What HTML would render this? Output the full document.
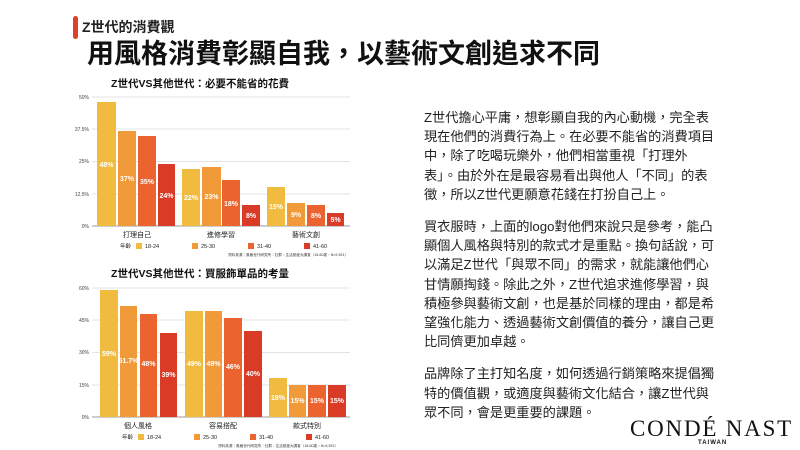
<!DOCTYPE html>
<html><head><meta charset="utf-8"><style>
body{margin:0;width:800px;height:450px;background:#fff;position:relative;overflow:hidden;font-family:"Liberation Sans","Noto Sans CJK TC",sans-serif;}
.bar{position:absolute;left:73px;top:16px;width:5px;height:23px;background:#E0402A;border-radius:3px}
.sub{position:absolute;left:82px;top:17px;font-size:14px;font-weight:bold;color:#222;line-height:20px}
.title{position:absolute;left:87px;top:37px;font-size:27px;font-weight:bold;color:#111;line-height:34px;white-space:nowrap}
.txt{position:absolute;left:424px;top:108px;width:340px;font-size:13.2px;line-height:19.2px;color:#222;white-space:nowrap}
.txt p{margin:0 0 13px 0}
.logo{position:absolute;left:630px;top:416px;font-family:"Liberation Serif",serif;font-size:23px;letter-spacing:1.8px;color:#111;white-space:nowrap;line-height:26px}
.tw{position:absolute;left:698px;top:440px;font-size:6px;font-weight:bold;letter-spacing:1px;color:#111}
</style></head><body>
<div class="bar"></div>
<div class="sub">Z世代的消費觀</div>
<div class="title">用風格消費彰顯自我，以藝術文創追求不同</div>
<svg width="800" height="450" style="position:absolute;left:0;top:0" font-family="Liberation Sans, Noto Sans CJK TC, sans-serif">
<g stroke="#e3e3e3" stroke-width="1">
<line x1="92" x2="350" y1="97" y2="97"/><line x1="92" x2="350" y1="129" y2="129"/><line x1="92" x2="350" y1="161.5" y2="161.5"/><line x1="92" x2="350" y1="194" y2="194"/>
<line x1="92" x2="350" y1="288" y2="288"/><line x1="92" x2="350" y1="320" y2="320"/><line x1="92" x2="350" y1="352.5" y2="352.5"/><line x1="92" x2="350" y1="385" y2="385"/>
</g>
<line x1="92" x2="350" y1="226" y2="226" stroke="#999"/>
<line x1="92" x2="350" y1="417" y2="417" stroke="#999"/>
<g font-size="5" fill="#444" text-anchor="end">
<text x="89" y="99">50%</text><text x="89" y="131">37.5%</text><text x="89" y="163">25%</text><text x="89" y="196">12.5%</text><text x="89" y="228">0%</text>
<text x="89" y="290">60%</text><text x="89" y="322">45%</text><text x="89" y="354">30%</text><text x="89" y="387">15%</text><text x="89" y="419">0%</text>
</g>
<text x="200" y="87" font-size="10.5" font-weight="bold" text-anchor="middle" fill="#111">Z世代VS其他世代：必要不能省的花費</text>
<text x="200" y="277" font-size="10.5" font-weight="bold" text-anchor="middle" fill="#111">Z世代VS其他世代：買服飾單品的考量</text>
<g>
<rect x="97" y="102" width="19" height="124" fill="#F0BB3F"/>
<rect x="118" y="131" width="18" height="95" fill="#F09A3A"/>
<rect x="138" y="136" width="18" height="90" fill="#EB6430"/>
<rect x="158" y="164" width="17" height="62" fill="#DA3B26"/>
<rect x="182" y="169" width="18" height="57" fill="#F0BB3F"/>
<rect x="202" y="167" width="19" height="59" fill="#F09A3A"/>
<rect x="222" y="180" width="18" height="46" fill="#EB6430"/>
<rect x="242" y="205" width="18" height="21" fill="#DA3B26"/>
<rect x="267" y="187" width="18" height="39" fill="#F0BB3F"/>
<rect x="287" y="203" width="18" height="23" fill="#F09A3A"/>
<rect x="307" y="205" width="18" height="21" fill="#EB6430"/>
<rect x="327" y="213" width="17" height="13" fill="#DA3B26"/>
</g>
<g font-size="7" font-weight="bold" fill="#fff" text-anchor="middle">
<text x="106.5" y="167">48%</text><text x="127" y="181">37%</text><text x="147" y="184">35%</text><text x="166.5" y="198">24%</text>
<text x="191" y="200">22%</text><text x="211.5" y="199">23%</text><text x="231" y="206">18%</text><text x="251" y="218">8%</text>
<text x="276" y="209">15%</text><text x="296" y="217">9%</text><text x="316" y="218">8%</text><text x="335.5" y="222">5%</text>
</g>
<g>
<rect x="100" y="290" width="18" height="127" fill="#F0BB3F"/>
<rect x="120" y="306" width="17" height="111" fill="#F09A3A"/>
<rect x="140" y="314" width="17" height="103" fill="#EB6430"/>
<rect x="160" y="333" width="17" height="84" fill="#DA3B26"/>
<rect x="185" y="311" width="18" height="106" fill="#F0BB3F"/>
<rect x="205" y="311" width="17" height="106" fill="#F09A3A"/>
<rect x="224" y="318" width="18" height="99" fill="#EB6430"/>
<rect x="244" y="331" width="18" height="86" fill="#DA3B26"/>
<rect x="269" y="378" width="18" height="39" fill="#F0BB3F"/>
<rect x="289" y="385" width="17" height="32" fill="#F09A3A"/>
<rect x="308" y="385" width="18" height="32" fill="#EB6430"/>
<rect x="328" y="385" width="18" height="32" fill="#DA3B26"/>
</g>
<g font-size="7" font-weight="bold" fill="#fff" text-anchor="middle">
<text x="109" y="356">59%</text><text x="128.5" y="363">51.7%</text><text x="148.5" y="366">48%</text><text x="168.5" y="377">39%</text>
<text x="194" y="366">49%</text><text x="213.5" y="366">49%</text><text x="233" y="369">46%</text><text x="253" y="376">40%</text>
<text x="278" y="400">18%</text><text x="297.5" y="403">15%</text><text x="317" y="403">15%</text><text x="337" y="403">15%</text>
</g>
<g font-size="7" fill="#222" text-anchor="middle">
<text x="137" y="237">打理自己</text><text x="221" y="237">進修學習</text><text x="306" y="237">藝術文創</text>
<text x="138" y="428">個人風格</text><text x="223" y="428">容易搭配</text><text x="307" y="428">款式特別</text>
</g>
<g font-size="5.5" fill="#222">
<text x="120" y="248">年齡</text>
<rect x="136" y="243" width="6" height="6" fill="#F0BB3F"/><text x="145" y="248">18-24</text>
<rect x="192" y="243" width="6" height="6" fill="#F09A3A"/><text x="201" y="248">25-30</text>
<rect x="248" y="243" width="6" height="6" fill="#EB6430"/><text x="257" y="248">31-40</text>
<rect x="304" y="243" width="6" height="6" fill="#DA3B26"/><text x="313" y="248">41-60</text>
<text x="122" y="439">年齡</text>
<rect x="138" y="434" width="6" height="6" fill="#F0BB3F"/><text x="147" y="439">18-24</text>
<rect x="194" y="434" width="6" height="6" fill="#F09A3A"/><text x="203" y="439">25-30</text>
<rect x="250" y="434" width="6" height="6" fill="#EB6430"/><text x="259" y="439">31-40</text>
<rect x="306" y="434" width="6" height="6" fill="#DA3B26"/><text x="315" y="439">41-60</text>
</g>
<g font-size="3.6" fill="#333" text-anchor="end">
<text x="348" y="256">資料來源｜風格世代研究所：社群、生活態度大調查（18-60歲，N=9,391）</text>
<text x="338" y="447">資料來源｜風格世代研究所：社群、生活態度大調查（18-60歲，N=9,391）</text>
</g>
</svg>
<div class="txt">
<p>Z世代擔心平庸，想彰顯自我的內心動機，完全表<br>現在他們的消費行為上。在必要不能省的消費項目<br>中，除了吃喝玩樂外，他們相當重視「打理外<br>表」。由於外在是最容易看出與他人「不同」的表<br>徵，所以Z世代更願意花錢在打扮自己上。</p>
<p>買衣服時，上面的logo對他們來說只是參考，能凸<br>顯個人風格與特別的款式才是重點。換句話說，可<br>以滿足Z世代「與眾不同」的需求，就能讓他們心<br>甘情願掏錢。除此之外，Z世代追求進修學習，與<br>積極參與藝術文創，也是基於同樣的理由，都是希<br>望強化能力、透過藝術文創價值的養分，讓自己更<br>比同儕更加卓越。</p>
<p>品牌除了主打知名度，如何透過行銷策略來提倡獨<br>特的價值觀，或適度與藝術文化結合，讓Z世代與<br>眾不同，會是更重要的課題。</p>
</div>
<div class="logo">CONDÉ NAST</div>
<div class="tw">TAIWAN</div>
</body></html>
